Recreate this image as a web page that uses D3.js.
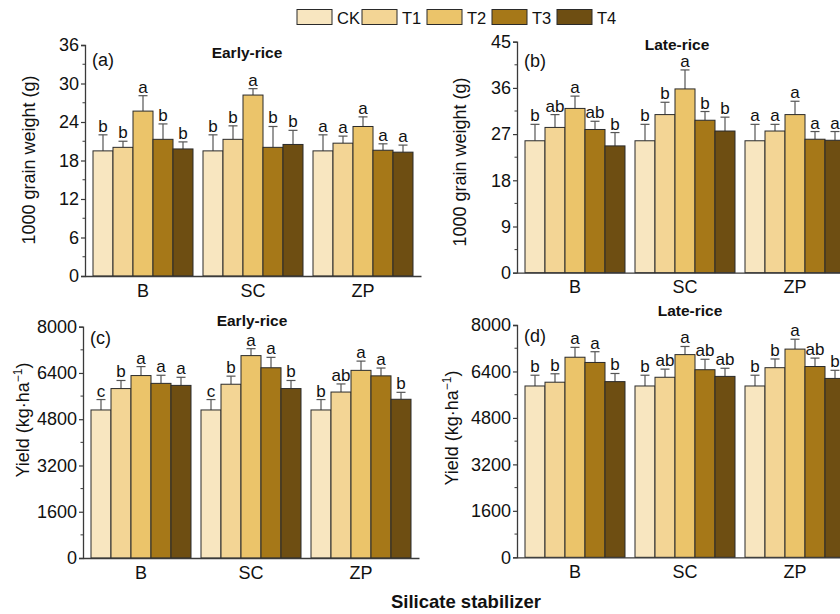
<!DOCTYPE html>
<html><head><meta charset="utf-8">
<script src="https://cdn.jsdelivr.net/npm/d3@7"></script>
<style>
html,body{margin:0;padding:0;background:#fff;}
svg{display:block;font-family:"Liberation Sans",Arial,sans-serif;}
</style></head>
<body><svg id="c" width="840" height="614"></svg>
<script>
const groups = ["B", "SC", "ZP"];
const treatments = ["CK", "T1", "T2", "T3", "T4"];
const colors = ["#F8E6C0", "#F3D595", "#EBC46A", "#A67818", "#6E4E12"];

// 1000 grain weight, early rice (g): [group][treatment]
const tgwEarly = [[19.5, 20.05, 25.7, 21.3, 19.8], [19.5, 21.3, 28.2, 20.05, 20.5], [19.5, 20.7, 23.3, 19.6, 19.3]];
const tgwEarlyErr = [[2.5, 0.95, 2.4, 2.4, 1.1], [2.5, 2.1, 1.0, 3.25, 2.2], [2.5, 1.1, 1.5, 1.0, 1.1]];
const tgwEarlyLet = [["b", "b", "a", "b", "b"], ["b", "b", "a", "b", "b"], ["a", "a", "a", "a", "a"]];

// 1000 grain weight, late rice (g)
const tgwLate = [[25.7, 28.3, 32.0, 27.9, 24.7], [25.7, 30.8, 35.8, 29.7, 27.6], [25.7, 27.6, 30.8, 26.0, 25.8]];
const tgwLateErr = [[3.2, 2.5, 2.4, 1.6, 2.6], [3.2, 2.4, 3.7, 1.7, 2.7], [3.2, 1.3, 2.6, 1.5, 1.7]];
const tgwLateLet = [["b", "ab", "a", "ab", "b"], ["b", "b", "a", "b", "b"], ["a", "a", "a", "a", "a"]];

// Yield, early rice (kg/ha)
const yieldEarly = [[5120, 5860, 6310, 6040, 5970], [5120, 6010, 7000, 6580, 5860], [5120, 5740, 6490, 6300, 5490]];
const yieldEarlyErr = [[360, 280, 310, 280, 280], [360, 280, 240, 360, 280], [360, 280, 320, 270, 240]];
const yieldEarlyLet = [["c", "b", "a", "a", "a"], ["c", "b", "a", "a", "b"], ["b", "ab", "a", "a", "b"]];

// Yield, late rice (kg/ha)
const yieldLate = [[5900, 6030, 6890, 6710, 6050], [5900, 6200, 6980, 6460, 6230], [5900, 6530, 7170, 6570, 6160]];
const yieldLateErr = [[370, 290, 340, 370, 280], [370, 280, 280, 360, 280], [370, 300, 340, 290, 280]];
const yieldLateLet = [["b", "b", "a", "a", "b"], ["b", "ab", "a", "ab", "ab"], ["b", "b", "a", "ab", "b"]];

const yTicksTGWEarly = [0, 6, 12, 18, 24, 30, 36];
const yTicksTGWLate = [0, 9, 18, 27, 36, 45];
const yTicksYield = [0, 1600, 3200, 4800, 6400, 8000];

const svg = d3.select("#c");
const axisColor = "#3a3a3a";
const FONT = "Liberation Sans, Arial, sans-serif";

function panel(cfg) {
  const g = svg.append("g");
  const x = d3.scaleBand().domain(groups).range([cfg.x0, cfg.x0 + 336]).paddingInner(10 / 110).paddingOuter(0.0727);
  const xi = d3.scaleBand().domain(treatments).range([0, x.bandwidth()]);
  const ymax = cfg.ticks[cfg.ticks.length - 1];
  const y = d3.scaleLinear().domain([0, ymax]).range([cfg.y0, cfg.y1]);

  groups.forEach((grp, gi) => {
    treatments.forEach((t, ti) => {
      const v = cfg.vals[gi][ti], e = cfg.errs[gi][ti];
      const bx = x(grp) + xi(t), bw = xi.bandwidth();
      const cx = bx + bw / 2;
      g.append("line").attr("x1", cx).attr("x2", cx).attr("y1", y(v)).attr("y2", y(v + e))
        .attr("stroke", "#555").attr("stroke-width", 1.2);
      g.append("line").attr("x1", cx - 4.5).attr("x2", cx + 4.5).attr("y1", y(v + e)).attr("y2", y(v + e))
        .attr("stroke", "#555").attr("stroke-width", 1.2);
      g.append("rect").attr("x", bx).attr("y", y(v)).attr("width", bw).attr("height", y(0) - y(v))
        .attr("fill", colors[ti]).attr("stroke", "#2a2a2a").attr("stroke-width", 1);
      g.append("text").attr("x", cx).attr("y", y(v + e) - 3).attr("text-anchor", "middle")
        .attr("font-size", 17).attr("fill", "#111").text(cfg.lets[gi][ti]);
    });
  });

  const yAxis = d3.axisLeft(y).tickValues(cfg.ticks).tickSize(4).tickPadding(2).tickFormat(d3.format("d"));
  const ya = g.append("g").attr("transform", `translate(${cfg.x0},0)`).call(yAxis);
  ya.select(".domain").attr("stroke", axisColor).attr("stroke-width", 1.3);
  ya.selectAll(".tick line").attr("stroke", axisColor).attr("stroke-width", 1.2);
  ya.selectAll("text").attr("font-size", 18).attr("fill", "#111").attr("font-family", FONT);
  const step = cfg.ticks[1] - cfg.ticks[0];
  const minors = d3.range(step / 2, ymax, step);
  g.selectAll(null).data(minors).enter().append("line")
    .attr("x1", cfg.x0 - 2.5).attr("x2", cfg.x0).attr("y1", d => y(d)).attr("y2", d => y(d))
    .attr("stroke", axisColor).attr("stroke-width", 1);

  const xAxis = d3.axisBottom(x).tickSize(0).tickPadding(8);
  const xa = g.append("g").attr("transform", `translate(0,${cfg.y0})`).call(xAxis);
  xa.select(".domain").attr("stroke", axisColor).attr("stroke-width", 1.3);
  xa.selectAll("text").attr("font-size", 18).attr("fill", "#111").attr("font-family", FONT);

  g.append("text").attr("x", cfg.x0 + 7).attr("y", cfg.tagY).attr("font-size", 18).attr("fill", "#111").text(cfg.tag);
  g.append("text").attr("x", cfg.titleX).attr("y", cfg.titleY).attr("text-anchor", "middle")
    .attr("font-size", 15.5).attr("font-weight", "bold").attr("fill", "#111").text(cfg.title);

  const yl = g.append("text").attr("transform", `translate(${cfg.ylx},${cfg.yly}) rotate(-90)`)
    .attr("text-anchor", "middle").attr("font-size", 18).attr("fill", "#111");
  if (cfg.yieldLabel) {
    yl.append("tspan").text("Yield (kg\u00B7ha");
    yl.append("tspan").attr("dy", -7).attr("font-size", 12).text("\u22121");
    yl.append("tspan").attr("dy", 7).text(")");
  } else {
    yl.text(cfg.ylabel);
  }
}

panel({x0: 85, y0: 276, y1: 45, ticks: yTicksTGWEarly, vals: tgwEarly, errs: tgwEarlyErr, lets: tgwEarlyLet,
  tag: "(a)", tagY: 66, title: "Early-rice", titleX: 247, titleY: 58, ylx: 35, yly: 160, ylabel: "1000 grain weight (g)"});
panel({x0: 517, y0: 272.7, y1: 41.7, ticks: yTicksTGWLate, vals: tgwLate, errs: tgwLateErr, lets: tgwLateLet,
  tag: "(b)", tagY: 67, title: "Late-rice", titleX: 677, titleY: 50, ylx: 466, yly: 162, ylabel: "1000 grain weight (g)"});
panel({x0: 83, y0: 558, y1: 326.7, ticks: yTicksYield, vals: yieldEarly, errs: yieldEarlyErr, lets: yieldEarlyLet,
  tag: "(c)", tagY: 344, title: "Early-rice", titleX: 252, titleY: 326, ylx: 29, yly: 420, yieldLabel: true});
panel({x0: 517, y0: 557.3, y1: 325, ticks: yTicksYield, vals: yieldLate, errs: yieldLateErr, lets: yieldLateLet,
  tag: "(d)", tagY: 342, title: "Late-rice", titleX: 690, titleY: 316, ylx: 458, yly: 428, yieldLabel: true});

svg.append("text").attr("x", 466).attr("y", 608).attr("text-anchor", "middle")
  .attr("font-size", 18.5).attr("font-weight", "bold").attr("fill", "#111").text("Silicate stabilizer");

const leg = svg.append("g");
treatments.forEach((t, i) => {
  const lx = 297 + i * 65;
  leg.append("rect").attr("x", lx).attr("y", 9.5).attr("width", 35).attr("height", 15)
    .attr("fill", colors[i]).attr("stroke", "#2a2a2a").attr("stroke-width", 1);
  leg.append("text").attr("x", lx + 40).attr("y", 23.5).attr("font-size", 16.5).attr("fill", "#111").text(t);
});
</script>
</body></html>
